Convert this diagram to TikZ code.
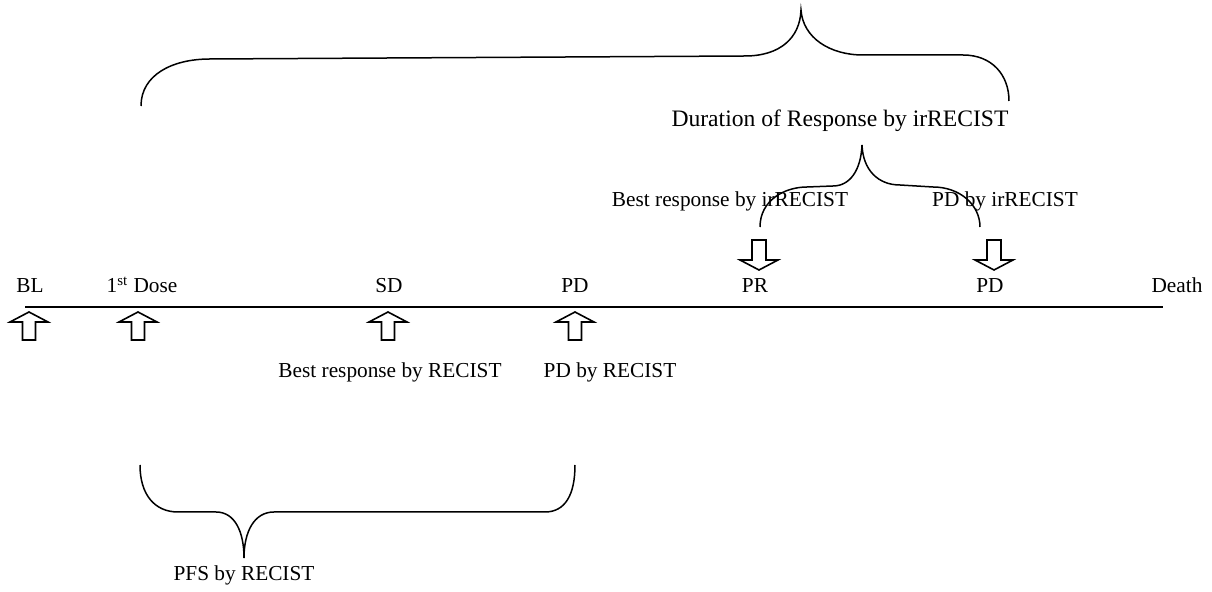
\documentclass[tikz,border=0pt]{standalone}
\usepackage{fontspec}
\setmainfont{Liberation Serif}
\tikzset{
  txt/.style={anchor=base, inner sep=0pt, font=\fontsize{10.65}{12}\selectfont},
  bigtxt/.style={txt, font=\fontsize{11.8}{13}\selectfont},
  curly/.style={draw, line width=0.75pt},
  axis/.style={draw, line width=1pt},
  blockarrow/.style={draw, line width=0.8pt, line join=miter},
  uparr/.pic={\path[blockarrow] (-6.5,28) -- (-6.5,10) -- (-19,10) -- (0,0) -- (19,10) -- (6.5,10) -- (6.5,28) -- cycle;},
  dnarr/.pic={\path[blockarrow] (-7,-30) -- (-7,-10) -- (-19,-10) -- (0,0) -- (19,-10) -- (7,-10) -- (7,-30) -- cycle;},
}
\begin{document}
\begin{tikzpicture}[x=0.5pt, y=-0.5pt]
  \useasboundingbox (0,0) rectangle (1212,592);

  % time line
  \coordinate (tlstart) at (25,307);
  \coordinate (tlend) at (1163,307);
  \path[axis] (tlstart) -- (tlend);

  % events on the line
  \node[txt] (bl) at (30,293) {BL};
  \node[txt] (dose) at (142,293) {1\textsuperscript{st} Dose};
  \node[txt] (sd) at (389,293) {SD};
  \node[txt] (pd) at (575,293) {PD};
  \node[txt] (pr) at (755,293) {PR};
  \node[txt] (pdir) at (990,293) {PD};
  \node[txt] (death) at (1177,293) {Death};

  % block arrows
  \pic at (29,312) {uparr};
  \pic at (138,312) {uparr};
  \pic at (388,312) {uparr};
  \pic at (575,312) {uparr};
  \pic at (759,270) {dnarr};
  \pic at (994,270) {dnarr};

  % assessments
  \node[txt] (bestrec) at (390,378) {Best response by RECIST};
  \node[txt] (pdrec) at (610,378) {PD by RECIST};
  \node[txt] (bestir) at (730,207) {Best response by irRECIST};
  \node[txt] (pdir2) at (1005,207) {PD by irRECIST};
  \node[bigtxt] (dor) at (840,127) {Duration of Response by irRECIST};
  \node[txt] (pfs) at (244,581) {PFS by RECIST};

  % braces
  \path[curly] (141,106) .. controls (141,75) and (172,59) .. (210,59)
    -- (745,56) .. controls (780,56) and (800,38) .. (801,10)
    .. controls (803,38) and (830,55) .. (863,55)
    -- (963,55) .. controls (992,55) and (1009,75) .. (1009,101);
  \path[curly] (760,227) .. controls (760,200) and (785,187) .. (807,187)
    -- (833,186) .. controls (850,186) and (861,170) .. (862,145)
    .. controls (863,170) and (878,185) .. (900,185)
    -- (933,187) .. controls (960,187) and (980,205) .. (980,227);
  \path[curly] (140,465) .. controls (140,495) and (155,512) .. (178,512)
    -- (216,512) .. controls (235,512) and (244,532) .. (244,558)
    .. controls (244,532) and (254,512) .. (274,512)
    -- (545,512) .. controls (565,512) and (575,495) .. (575,465);
\end{tikzpicture}
\end{document}
